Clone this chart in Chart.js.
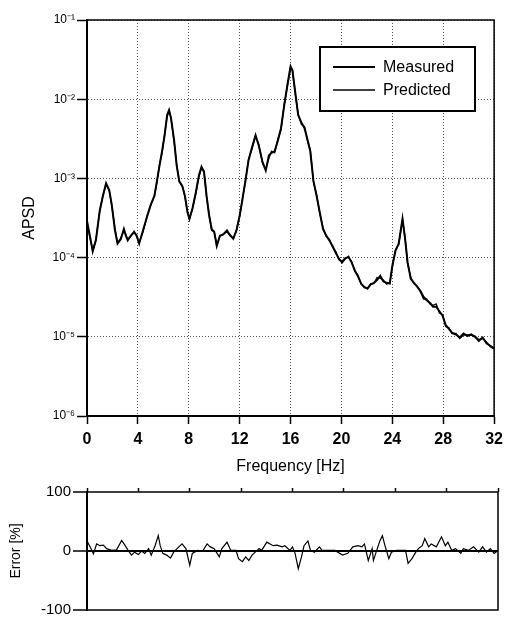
<!DOCTYPE html>
<html>
<head>
<meta charset="utf-8">
<script src="https://cdn.jsdelivr.net/npm/chart.js@4"></script>
<style>
  body { margin: 0; background: #fff; }
  #wrap { position: relative; width: 509px; height: 621px; }
  canvas { position: absolute; left: 0; }
  #apsdChart { top: 0; }
  #errorChart { top: 480px; }
</style>
</head>
<body>
<div id="wrap">
  <canvas id="apsdChart" width="509" height="480"></canvas>
  <canvas id="errorChart" width="509" height="141"></canvas>
</div>
<script>
// APSD data (frequency in Hz)
const apsdFreq = [
  0.0, 0.25, 0.45, 0.7, 1.0, 1.25, 1.5, 1.75, 1.95, 2.2, 2.4, 2.65, 2.9, 3.05, 3.2, 3.45, 3.7, 3.9,
  4.1, 4.4, 4.75, 5.0, 5.3, 5.5, 5.7, 5.9, 6.1, 6.3, 6.45, 6.6, 6.85, 7.05, 7.25, 7.5, 7.7, 7.9,
  8.05, 8.3, 8.55, 8.8, 9.0, 9.2, 9.4, 9.6, 9.8, 10.0, 10.2, 10.45, 10.7, 11.0, 11.25, 11.5, 11.75,
  12.0, 12.2, 12.45, 12.7, 12.95, 13.25, 13.5, 13.8, 14.05, 14.3, 14.5, 14.75, 15.0, 15.25, 15.5,
  15.75, 16.0, 16.15, 16.4, 16.6, 16.85, 17.1, 17.35, 17.55, 17.8, 18.05, 18.3, 18.55, 18.8, 19.05,
  19.3, 19.55, 19.8, 20.05, 20.3, 20.55, 20.8, 21.05, 21.3, 21.55, 21.8, 22.05, 22.3, 22.55, 22.8,
  23.05, 23.3, 23.55, 23.8, 24.0, 24.25, 24.5, 24.8, 25.0, 25.2, 25.45, 25.7, 25.95, 26.2, 26.45,
  26.7, 26.95, 27.2, 27.45, 27.7, 27.95, 28.2, 28.45, 28.7, 29.0, 29.3, 29.6, 29.9, 30.2, 30.5,
  30.8, 31.1, 31.4, 31.7, 32.0
]
const apsdMeasured = [
  2.9e-4, 1.8e-4, 1.2e-4, 1.65e-4, 3.9e-4, 6.0e-4, 8.7e-4, 7.1e-4, 4.6e-4, 2.2e-4, 1.5e-4, 1.7e-4, 2.3e-4, 1.9e-4, 1.65e-4, 1.9e-4, 2.1e-4, 1.9e-4,
  1.5e-4, 2.2e-4, 3.4e-4, 4.6e-4, 6.0e-4, 9.3e-4, 1.45e-3, 2.2e-3, 3.5e-3, 6.3e-3, 7.3e-3, 5.8e-3, 3.0e-3, 1.45e-3, 9.3e-4, 7.9e-4, 6.0e-4, 3.7e-4,
  3.1e-4, 4.2e-4, 6.6e-4, 1.1e-3, 1.4e-3, 1.2e-3, 6.0e-4, 3.4e-4, 2.3e-4, 2.1e-4, 1.4e-4, 1.9e-4, 1.95e-4, 2.2e-4, 1.9e-4, 1.75e-4, 2.2e-4,
  3.4e-4, 5.2e-4, 9.3e-4, 1.7e-3, 2.4e-3, 3.5e-3, 2.6e-3, 1.6e-3, 1.26e-3, 1.95e-3, 2.1e-3, 2.2e-3, 3.0e-3, 4.3e-3, 8.3e-3,
  1.5e-2, 2.6e-2, 2.3e-2, 1.12e-2, 6.3e-3, 5.1e-3, 4.3e-3, 3.0e-3, 2.2e-3, 9.3e-4, 6.0e-4, 3.7e-4, 2.3e-4, 1.9e-4, 1.65e-4,
  1.4e-4, 1.15e-4, 9.7e-5, 8.7e-5, 9.7e-5, 1.03e-4, 8.7e-5, 6.9e-5, 5.8e-5, 4.7e-5, 4.2e-5, 4.1e-5, 4.6e-5, 4.8e-5, 5.2e-5,
  5.9e-5, 5.0e-5, 4.8e-5, 4.7e-5, 7.9e-5, 1.23e-4, 1.5e-4, 3.1e-4, 1.75e-4, 8.7e-5, 5.4e-5, 4.8e-5, 4.3e-5, 3.8e-5, 3.2e-5,
  2.9e-5, 2.7e-5, 2.4e-5, 2.4e-5, 2.1e-5, 1.85e-5, 1.4e-5, 1.26e-5, 1.12e-5, 1.07e-5, 9.8e-6, 1.1e-5, 1.03e-5, 1.07e-5, 1.0e-5,
  8.9e-6, 9.8e-6, 8.3e-6, 7.7e-6, 7.1e-6
]
const apsdPredicted = [
  2.8e-4, 1.7e-4, 1.25e-4, 1.7e-4, 3.8e-4, 6.1e-4, 8.4e-4, 7.0e-4, 4.5e-4, 2.3e-4, 1.55e-4, 1.75e-4, 2.2e-4, 1.95e-4, 1.7e-4, 1.85e-4, 2.15e-4, 1.85e-4,
  1.55e-4, 2.1e-4, 3.5e-4, 4.5e-4, 6.1e-4, 9.0e-4, 1.5e-3, 2.1e-3, 3.6e-3, 6.1e-3, 7.0e-3, 5.9e-3, 2.9e-3, 1.5e-3, 9.0e-4, 8.1e-4, 5.8e-4, 3.8e-4,
  3.0e-4, 4.3e-4, 6.4e-4, 1.05e-3, 1.35e-3, 1.25e-3, 5.8e-4, 3.5e-4, 2.2e-4, 2.15e-4, 1.45e-4, 1.85e-4, 2.0e-4, 2.1e-4, 1.95e-4, 1.7e-4, 2.25e-4,
  3.3e-4, 5.3e-4, 9.0e-4, 1.75e-3, 2.3e-3, 3.4e-3, 2.7e-3, 1.55e-3, 1.3e-3, 1.8e-3, 2.2e-3, 2.1e-3, 3.1e-3, 4.1e-3, 8.6e-3,
  1.45e-2, 2.5e-2, 2.35e-2, 1.08e-2, 6.5e-3, 4.8e-3, 4.5e-3, 2.9e-3, 2.3e-3, 9.0e-4, 6.2e-4, 3.6e-4, 2.4e-4, 1.85e-4, 1.7e-4,
  1.35e-4, 1.2e-4, 9.4e-5, 9.0e-5, 1.0e-4, 1.0e-4, 9.0e-5, 6.7e-5, 6.0e-5, 4.6e-5, 4.3e-5, 4.0e-5, 4.7e-5, 4.7e-5, 5.6e-5,
  5.5e-5, 5.2e-5, 4.6e-5, 4.8e-5, 7.6e-5, 1.25e-4, 1.45e-4, 3.0e-4, 1.8e-4, 8.4e-5, 5.6e-5, 4.7e-5, 4.4e-5, 3.7e-5, 3.0e-5,
  3.0e-5, 2.6e-5, 2.5e-5, 2.6e-5, 2.0e-5, 1.9e-5, 1.35e-5, 1.3e-5, 1.1e-5, 1.1e-5, 9.5e-6, 1.05e-5, 1.06e-5, 1.04e-5, 1.02e-5,
  9.2e-6, 9.5e-6, 8.6e-6, 7.5e-6, 7.0e-6
]
const apsdTickValues = [1e-6, 1e-5, 1e-4, 1e-3, 1e-2, 1e-1]
const apsdTickLabels = ['10⁻⁶', '10⁻⁵', '10⁻⁴', '10⁻³', '10⁻²', '10⁻¹']

// Prediction error in percent
const errFreq = [
  0.0, 0.27, 0.5, 0.75, 1.0, 1.27, 1.53, 1.92, 2.3, 2.7, 2.95, 3.2, 3.47, 3.7, 4.0, 4.25, 4.5, 4.8,
  5.0, 5.3, 5.55, 5.7, 5.9, 6.2, 6.5, 6.75, 7.15, 7.4, 7.7, 8.0, 8.2, 8.6, 9.0, 9.35, 9.6, 9.9,
  10.3, 10.5, 10.9, 11.2, 11.6, 11.8, 12.1, 12.35, 12.6, 12.85, 13.1, 13.4, 13.6, 14.0, 14.25, 14.5,
  14.8, 15.2, 15.4, 15.8, 16.0, 16.2, 16.45, 16.7, 16.9, 17.2, 17.4, 17.7, 18.1, 18.3, 18.8, 19.3,
  19.9, 20.3, 20.7, 21.1, 21.4, 21.6, 21.9, 22.2, 22.3, 22.6, 22.8, 23.0, 23.2, 23.5, 23.7, 24.1,
  24.8, 25.0, 25.3, 25.6, 25.8, 26.1, 26.3, 26.6, 26.8, 27.2, 27.6, 27.9, 28.1, 28.4, 28.7, 29.1,
  29.3, 29.7, 30.1, 30.5, 30.8, 31.1, 31.4, 31.7, 32.0
]
const errPct = [
  17, 6, -5, 12, 9, 10, 4, 1, 2, 18, 10, 1, -7, -2, -6, 0, -4, 4,
  -7, 9, 26, 9, -4, -7, -12, -2, 7, 12, 4, -24, -4, 1, 0, 12, 7, 4,
  -10, 4, 15, 1, 1, -13, -18, -10, -16, -7, -2, 4, 1, 15, 12, 9,
  10, 7, 9, 1, 7, -4, -30, -10, 9, 17, 1, -2, 7, 1, 1, 1,
  -7, -4, 7, 9, 7, 12, -16, 4, -16, 4, 17, 26, 9, -13, -2, 1,
  1, -21, -13, -2, 4, 9, 21, 7, 12, 7, 24, 9, 15, 1, 4, -4,
  4, 1, 7, -2, 7, -2, 4, -4, 1
]

const fontFamily = '"Liberation Sans", Arial, sans-serif'

// box around the plot area
const framePlugin = {
  id: 'frame',
  afterDraw(chart) {
    const { ctx, chartArea: a } = chart
    ctx.save()
    ctx.strokeStyle = '#000'
    ctx.lineWidth = 1.5
    ctx.strokeRect(a.left, a.top, a.right - a.left, a.bottom - a.top)
    ctx.restore()
  }
}

// boxed legend in the upper right of the APSD plot
const boxLegendPlugin = {
  id: 'boxLegend',
  afterDraw(chart) {
    const { ctx } = chart
    const x = 320, y = 47, w = 155, h = 64
    ctx.save()
    ctx.fillStyle = '#fff'
    ctx.fillRect(x, y, w, h)
    ctx.strokeStyle = '#000'
    ctx.lineWidth = 2
    ctx.strokeRect(x, y, w, h)
    chart.data.datasets.forEach((ds, i) => {
      const ly = 67 + i * 23
      ctx.beginPath()
      ctx.lineWidth = ds.borderWidth
      ctx.moveTo(333, ly)
      ctx.lineTo(375, ly)
      ctx.stroke()
      ctx.fillStyle = '#000'
      ctx.font = '16px ' + fontFamily
      ctx.textBaseline = 'middle'
      ctx.fillText(ds.label, 383, ly + 1)
    })
    ctx.restore()
  }
}

new Chart(document.getElementById('apsdChart').getContext('2d'), {
  type: 'line',
  data: {
    datasets: [
      {
        label: 'Measured',
        data: apsdFreq.map((f, i) => ({ x: f, y: apsdMeasured[i] })),
        borderColor: '#000',
        borderWidth: 2,
        pointRadius: 0,
        tension: 0
      },
      {
        label: 'Predicted',
        data: apsdFreq.map((f, i) => ({ x: f, y: apsdPredicted[i] })),
        borderColor: '#111',
        borderWidth: 1.3,
        pointRadius: 0,
        tension: 0
      }
    ]
  },
  options: {
    responsive: false,
    animation: false,
    layout: { padding: { top: 20, right: 11, left: 0, bottom: 0 } },
    plugins: { legend: { display: false }, tooltip: { enabled: false } },
    scales: {
      x: {
        type: 'linear',
        min: 0,
        max: 32,
        afterFit: (scale) => { scale.height = 64 },
        ticks: {
          stepSize: 4,
          color: '#000',
          padding: 6,
          font: { family: fontFamily, size: 16, weight: 'bold' }
        },
        grid: {
          color: '#555',
          lineWidth: 1,
          tickLength: 8,
          tickColor: '#000',
          tickWidth: 1.5,
          tickBorderDash: []
        },
        border: { color: '#000', width: 2, dash: [1, 2] },
        title: {
          display: true,
          text: 'Frequency [Hz]',
          color: '#000',
          padding: { top: 0, bottom: 4 },
          font: { family: fontFamily, size: 16 }
        }
      },
      y: {
        type: 'logarithmic',
        min: 1e-6,
        max: 1e-1,
        afterFit: (scale) => { scale.width = 87 },
        afterBuildTicks: (axis) => {
          axis.ticks = apsdTickValues.map((v) => ({ value: v }))
        },
        ticks: {
          color: '#000',
          padding: 2,
          font: { family: fontFamily, size: 12 },
          callback: (value) => apsdTickLabels[apsdTickValues.indexOf(value)]
        },
        grid: {
          color: '#555',
          lineWidth: 1,
          tickLength: 10,
          tickColor: '#000',
          tickWidth: 1.5,
          tickBorderDash: []
        },
        border: { color: '#000', width: 2, dash: [1, 2] },
        title: {
          display: true,
          text: 'APSD',
          color: '#000',
          padding: { top: 20, bottom: 0 },
          font: { family: fontFamily, size: 16 }
        }
      }
    }
  },
  plugins: [framePlugin, boxLegendPlugin]
})

new Chart(document.getElementById('errorChart').getContext('2d'), {
  type: 'line',
  data: {
    datasets: [
      {
        label: 'Error',
        data: errFreq.map((f, i) => ({ x: f, y: errPct[i] })),
        borderColor: '#000',
        borderWidth: 1.2,
        pointRadius: 0,
        tension: 0
      }
    ]
  },
  options: {
    responsive: false,
    animation: false,
    layout: { padding: { top: 12, right: 11, left: 0, bottom: 9 } },
    plugins: { legend: { display: false }, tooltip: { enabled: false } },
    scales: {
      x: {
        type: 'linear',
        position: 'top',
        min: 0,
        max: 32,
        afterFit: (scale) => { scale.height = 0 },
        ticks: { display: false, stepSize: 4 },
        grid: { drawOnChartArea: false, tickLength: 4, tickColor: '#000', tickWidth: 1.5 },
        border: { display: false }
      },
      y: {
        min: -100,
        max: 100,
        afterFit: (scale) => { scale.width = 87 },
        ticks: {
          stepSize: 100,
          color: '#000',
          padding: 2,
          font: { family: fontFamily, size: 15 }
        },
        grid: {
          color: (ctx) => (ctx.tick && ctx.tick.value === 0 ? '#000' : 'rgba(0,0,0,0)'),
          lineWidth: 2,
          tickLength: 14,
          tickColor: '#000',
          tickWidth: 1.5
        },
        border: { color: '#000', width: 2 },
        title: {
          display: true,
          text: 'Error [%]',
          color: '#000',
          padding: { top: 8, bottom: 0 },
          font: { family: fontFamily, size: 14 }
        }
      }
    }
  },
  plugins: [framePlugin]
})
</script>
</body>
</html>
